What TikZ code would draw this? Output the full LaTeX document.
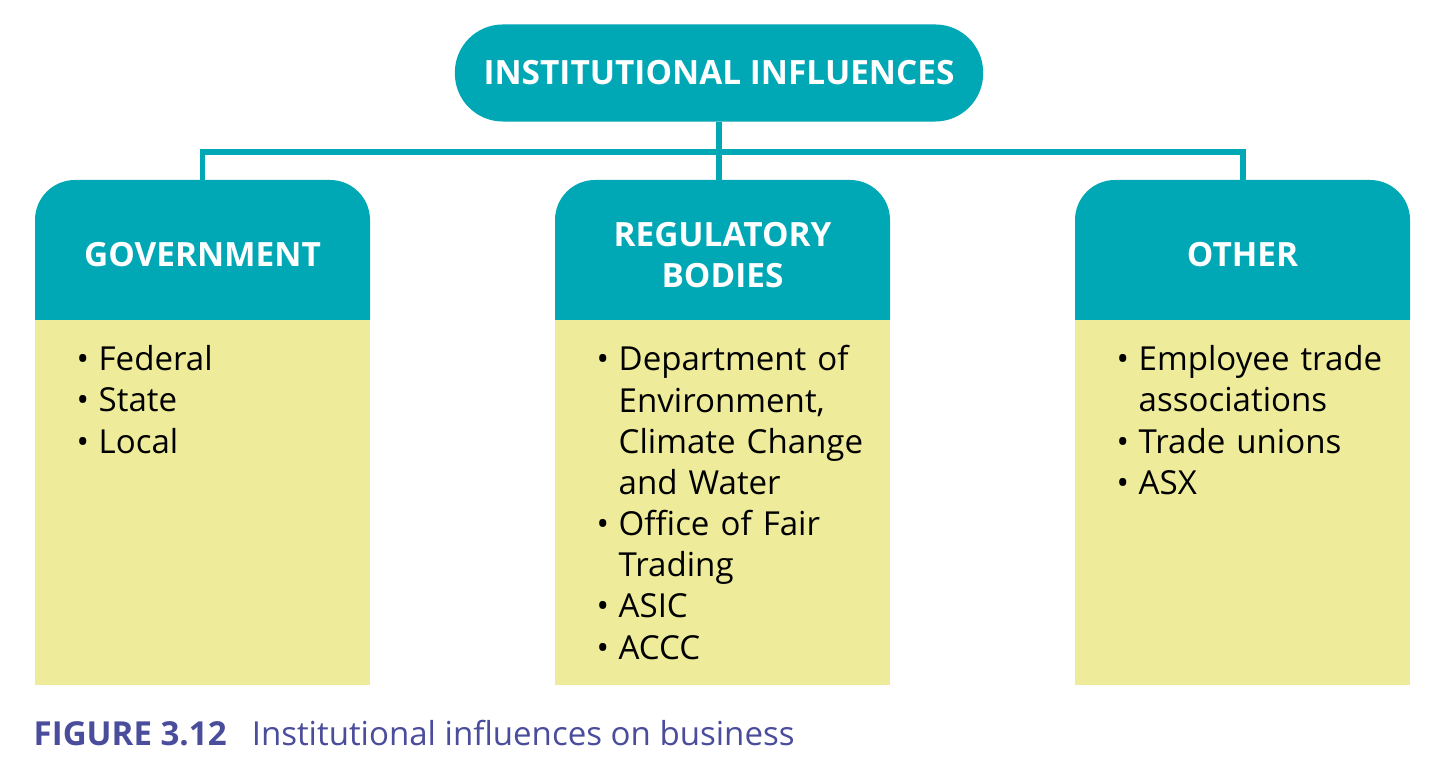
\documentclass[tikz,border=0pt]{standalone}
\usepackage{fontspec}
\setmainfont{Open Sans}
\usetikzlibrary{positioning}
\definecolor{teal1}{HTML}{00A7B5}
\definecolor{pale}{HTML}{EEEB9A}
\definecolor{capblue}{HTML}{4A4C9C}
\tikzset{
  head/.style={fill=teal1, text=white, font=\bfseries\fontsize{9.5}{11.5}\selectfont, align=center},
  body/.style={fill=pale},
  items/.style={anchor=north west, text width=2.75cm, align=left, font=\fontsize{9.4}{11.7}\selectfont, inner sep=0pt},
  link/.style={teal1, line width=1.7pt}
}
\newcommand{\bul}{\makebox[0.22cm][l]{\textbullet}}
\begin{document}
\begin{tikzpicture}[x=0.01cm, y=-0.01cm]
	\useasboundingbox (0,0) rectangle (1440,771);
	% top
	\node[head, rounded corners=0.48cm, minimum width=5.28cm, minimum height=0.97cm] (top) at (719,73) {INSTITUTIONAL INFLUENCES};
	% boxes
	\foreach \x/\title in {35/GOVERNMENT, 555/{REGULATORY\\BODIES}, 1075/OTHER}{
		\fill[body] (\x,318) rectangle (\x+335,685);
		\fill[teal1] (\x,320) [rounded corners=0.4cm] -- (\x,180) -- (\x+335,180) [sharp corners] -- (\x+335,320) -- cycle;
		\node[head] at (\x+167.5,255) {\title};
	}
	\coordinate (govtop) at (202.5,181);
	\coordinate (regtop) at (722.5,181);
	\coordinate (othtop) at (1242.5,181);
	% links
	\coordinate (bar) at (719,152);
	\draw[link] (top.south) -- (bar);
	\draw[link] (govtop) |- (bar) -| (othtop);
	\draw[link] (bar) -- (bar |- regtop);
	% lists
	\node[items] (govlist) at (76,345) {\bul Federal\\\bul State\\\bul Local};
	\node[items] (reglist) at (596,345) {\bul Department of\\\hspace*{0.22cm}Environment,\\\hspace*{0.22cm}Climate Change\\\hspace*{0.22cm}and Water\\\bul Office of Fair\\\hspace*{0.22cm}Trading\\\bul ASIC\\\bul ACCC};
	\node[items] (othlist) at (1116,345) {\bul Employee trade\\\hspace*{0.22cm}associations\\\bul Trade unions\\\bul ASX};
	% caption
	\node[anchor=west, inner sep=0pt, text=capblue, font=\fontsize{9.4}{11}\selectfont] (cap) at (33,733) {\textbf{FIGURE 3.12}\hspace{0.5em} Institutional influences on business};
\end{tikzpicture}
\end{document}
